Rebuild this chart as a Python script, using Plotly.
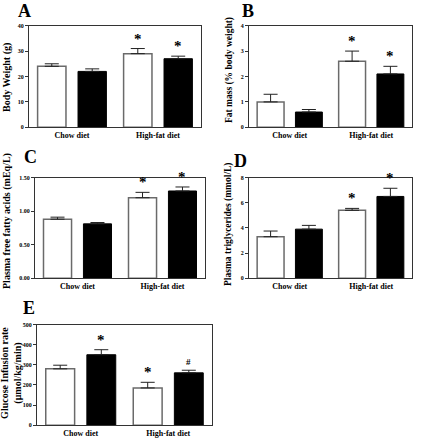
import plotly.graph_objects as go

W, H = 422, 440
categories = ["Chow diet", "High-fat diet"]

# Panel data: white (open) and black (filled) bars, with SEM (upward only)
A_white = [24, 29];    A_white_err = [1, 2]
A_black = [22, 27];    A_black_err = [1, 1]
B_white = [1.0, 2.6];  B_white_err = [0.3, 0.4]
B_black = [0.6, 2.1];  B_black_err = [0.1, 0.3]
C_white = [0.88, 1.20]; C_white_err = [0.03, 0.08]
C_black = [0.81, 1.30]; C_black_err = [0.02, 0.06]
D_white = [3.3, 5.4];  D_white_err = [0.45, 0.15]
D_black = [3.9, 6.5];  D_black_err = [0.3, 0.65]
E_white = [280, 185];  E_white_err = [18, 28]
E_black = [350, 260];  E_black_err = [25, 13]

A_marks_white = ["", "*"]; A_marks_black = ["", "*"]
B_marks_white = ["", "*"]; B_marks_black = ["", "*"]
C_marks_white = ["", "*"]; C_marks_black = ["", "*"]
D_marks_white = ["", "*"]; D_marks_black = ["", "*"]
E_marks_white = ["", "*"]; E_marks_black = ["*", "#"]

A_ticks = [0, 10, 20, 30, 40]; A_ticktext = ["0", "10", "20", "30", "40"]
B_ticks = [0, 1, 2, 3, 4];     B_ticktext = ["0", "1", "2", "3", "4"]
C_ticks = [0, 0.5, 1.0, 1.5];  C_ticktext = ["0.00", "0.50", "1.00", "1.50"]
D_ticks = [0, 2, 4, 6, 8];     D_ticktext = ["0", "2", "4", "6", "8"]
E_ticks = [0, 100, 200, 300, 400, 500]
E_ticktext = ["0", "100", "200", "300", "400", "500"]

FONT = "Liberation Serif"

panels = [
    dict(name="A", white=A_white, werr=A_white_err, black=A_black, berr=A_black_err,
         mw=A_marks_white, mb=A_marks_black, ticks=A_ticks, ticktext=A_ticktext, ymax=40,
         box=(29, 201, 23, 126), label=(24, 8),
         title="Body Weight (g)", title_pos=(7, 76), title_size=10),
    dict(name="B", white=B_white, werr=B_white_err, black=B_black, berr=B_black_err,
         mw=B_marks_white, mb=B_marks_black, ticks=B_ticks, ticktext=B_ticktext, ymax=4,
         box=(249, 412, 23, 126), label=(248, 8),
         title="Fat mass (% body weight)", title_pos=(229, 68), title_size=9.5),
    dict(name="C", white=C_white, werr=C_white_err, black=C_black, berr=C_black_err,
         mw=C_marks_white, mb=C_marks_black, ticks=C_ticks, ticktext=C_ticktext, ymax=1.5,
         box=(35, 205, 177, 279), label=(30, 156),
         title="Plasma free fatty acids (mEq/L)", title_pos=(7, 221), title_size=10),
    dict(name="D", white=D_white, werr=D_white_err, black=D_black, berr=D_black_err,
         mw=D_marks_white, mb=D_marks_black, ticks=D_ticks, ticktext=D_ticktext, ymax=8,
         box=(249, 412, 177, 279), label=(241, 160),
         title="Plasma triglycerides (mmol/L)", title_pos=(229, 225), title_size=9.5),
    dict(name="E", white=E_white, werr=E_white_err, black=E_black, berr=E_black_err,
         mw=E_marks_white, mb=E_marks_black, ticks=E_ticks, ticktext=E_ticktext, ymax=500,
         box=(37, 212, 326, 428), label=(29, 309),
         title="Glucose Infusion rate<br>(μmol/kg/min)", title_pos=(12, 375), title_size=10),
]

fig = go.Figure()
annotations = []
layout = {}
OFF = 0.235
BW = 0.33
idx = list(range(len(categories)))

for k, p in enumerate(panels):
    n = "" if k == 0 else str(k + 1)
    xa, ya = "x" + n, "y" + n
    x0, x1, y0, y1 = p["box"]
    xw = [i - OFF for i in idx]
    xb = [i + OFF for i in idx]
    fig.add_trace(go.Bar(
        x=xw, y=p["white"], width=BW, xaxis=xa, yaxis=ya,
        marker=dict(color="white", line=dict(color="#6a6a6a", width=1.5)),
        error_y=dict(type="data", symmetric=False, array=p["werr"],
                     arrayminus=[0] * len(idx), color="#222", thickness=1, width=7),
        showlegend=False, hoverinfo="skip"))
    fig.add_trace(go.Bar(
        x=xb, y=p["black"], width=BW, xaxis=xa, yaxis=ya,
        marker=dict(color="black", line=dict(color="black", width=1)),
        error_y=dict(type="data", symmetric=False, array=p["berr"],
                     arrayminus=[0] * len(idx), color="#222", thickness=1, width=7),
        showlegend=False, hoverinfo="skip"))
    for xs, vals, errs, marks in ((xw, p["white"], p["werr"], p["mw"]),
                                  (xb, p["black"], p["berr"], p["mb"])):
        for xv, v, e, m in zip(xs, vals, errs, marks):
            if m:
                annotations.append(dict(
                    x=xv, y=v + e, xref=xa, yref=ya, text=m, showarrow=False,
                    yanchor="bottom", yshift=0 if m == "*" else 1,
                    font=dict(family=FONT, size=15 if m == "*" else 9, color="#000000", weight="bold")))
    axkey = "xaxis" + n
    aykey = "yaxis" + n
    layout[axkey] = dict(
        domain=[x0 / W, x1 / W], range=[-0.5, 1.5], anchor=ya,
        tickvals=idx, ticktext=categories, ticks="", ticklen=0, showgrid=False, zeroline=False,
        showline=True, mirror=True, linecolor="#333", linewidth=1,
        tickfont=dict(family=FONT, size=8, color="black", weight="bold"))
    layout[aykey] = dict(
        domain=[1 - y1 / H, 1 - y0 / H], range=[0, p["ymax"]], anchor=xa,
        tickvals=p["ticks"], ticktext=p["ticktext"], ticks="outside", ticklen=3,
        tickcolor="#333", showgrid=False, zeroline=False,
        showline=True, mirror=True, linecolor="#333", linewidth=1,
        tickfont=dict(family=FONT, size=6, color="black", weight="bold"))
    lx, ly = p["label"]
    annotations.append(dict(
        x=lx / W, y=1 - ly / H, xref="paper", yref="paper", text=p["name"],
        showarrow=False, xanchor="center", yanchor="middle",
        font=dict(family=FONT, size=18, color="black", weight="bold")))
    tx, ty = p["title_pos"]
    annotations.append(dict(
        x=tx / W, y=1 - ty / H, xref="paper", yref="paper", text=p["title"],
        showarrow=False, xanchor="center", yanchor="middle", textangle=-90,
        font=dict(family=FONT, size=p["title_size"], color="black", weight="bold")))

fig.update_layout(
    width=W, height=H, margin=dict(l=0, r=0, t=0, b=0),
    paper_bgcolor="white", plot_bgcolor="white", barmode="overlay",
    hovermode=False, annotations=annotations, **layout)

fig.write_html("out.html", config={"displayModeBar": False},
               post_script="document.body.style.margin='0';")
